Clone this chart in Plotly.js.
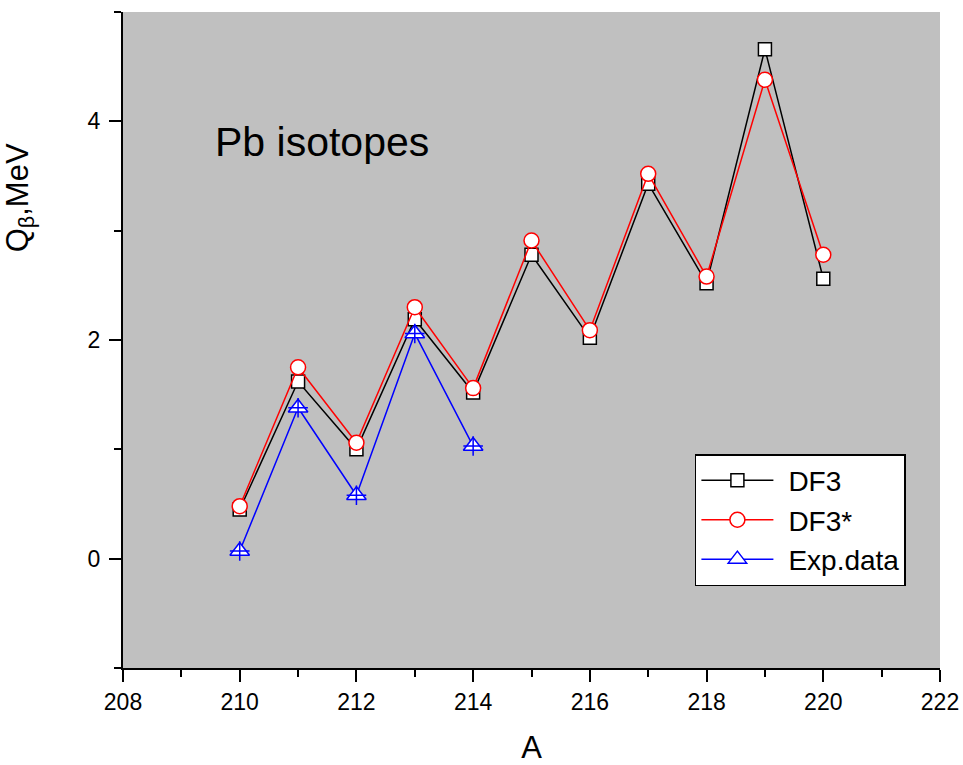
<!DOCTYPE html>
<html>
<head>
<meta charset="utf-8">
<script src="https://cdn.plot.ly/plotly-3.0.1.min.js"></script>
<style>html,body{margin:0;padding:0;background:#fff;}#chart{width:963px;height:765px;}</style>
</head>
<body>
<div id="chart"></div>
<script>
const massNumbers = [210, 211, 212, 213, 214, 215, 216, 217, 218, 219, 220];
const df3 = [0.45, 1.62, 1.00, 2.19, 1.52, 2.78, 2.02, 3.43, 2.52, 4.66, 2.56];
const df3star = [0.48, 1.75, 1.06, 2.30, 1.56, 2.91, 2.09, 3.52, 2.58, 4.38, 2.78];
const expMass = [210, 211, 212, 213, 214];
const expData = [0.07, 1.38, 0.58, 2.06, 1.03];
const seriesNames = ["DF3", "DF3*", "Exp.data"];

const FONT = "Liberation Sans, Arial, sans-serif";

const traces = [
  {
    x: massNumbers, y: df3, name: seriesNames[0], type: "scatter", mode: "lines+markers",
    line: {color: "#000000", width: 1.5},
    marker: {symbol: "square", size: 13, color: "#ffffff", line: {color: "#000000", width: 1.5}}
  },
  {
    x: massNumbers, y: df3star, name: seriesNames[1], type: "scatter", mode: "lines+markers",
    line: {color: "#ff0000", width: 1.5},
    marker: {symbol: "circle", size: 15, color: "#ffffff", line: {color: "#ff0000", width: 1.5}}
  },
  {
    x: expMass, y: expData, name: seriesNames[2], type: "scatter", mode: "lines+markers",
    line: {color: "#0000ff", width: 1.5},
    marker: {symbol: "triangle-up", size: 17, color: "#ffffff", line: {color: "#0000ff", width: 1.5}}
  },
  {
    x: expMass, y: expData, name: seriesNames[2], type: "scatter", mode: "markers",
    showlegend: false, hoverinfo: "skip",
    marker: {symbol: "cross-thin", size: 14, color: "#0000ff", line: {color: "#0000ff", width: 1.5}}
  }
];

const layout = {
  width: 963, height: 765,
  margin: {l: 123, r: 23, t: 12, b: 97},
  paper_bgcolor: "#ffffff",
  plot_bgcolor: "#c0c0c0",
  font: {family: FONT, color: "#000000", size: 23},
  showlegend: true,
  xaxis: {
    range: [208, 222], tick0: 208, dtick: 2,
    showgrid: false, zeroline: false,
    showline: true, linecolor: "#000000", linewidth: 2, mirror: false,
    ticks: "outside", ticklen: 12, tickwidth: 2, tickcolor: "#000000",
    minor: {dtick: 1, ticks: "outside", ticklen: 7, tickwidth: 2, tickcolor: "#000000", showgrid: false},
    tickfont: {family: FONT, size: 23},
    title: {text: "A", font: {family: FONT, size: 31}, standoff: 26}
  },
  yaxis: {
    range: [-1, 5], tick0: 0, dtick: 2,
    showgrid: false, zeroline: false,
    showline: true, linecolor: "#000000", linewidth: 2, mirror: false,
    ticks: "outside", ticklen: 12, tickwidth: 2, tickcolor: "#000000",
    minor: {dtick: 1, ticks: "outside", ticklen: 7, tickwidth: 2, tickcolor: "#000000", showgrid: false},
    tickfont: {family: FONT, size: 23},
    ticklabelstandoff: 4
  },
  legend: {
    x: 0.70, y: 0.326, xanchor: "left", yanchor: "top",
    bgcolor: "#ffffff", bordercolor: "#000000", borderwidth: 1.5,
    itemwidth: 82,
    font: {family: FONT, size: 28, color: "#000000"}
  },
  annotations: [
    {
      text: "Pb isotopes", xref: "paper", yref: "paper", x: 0.243, y: 0.802,
      xanchor: "center", yanchor: "middle", showarrow: false,
      font: {family: FONT, size: 41, color: "#000000"}
    },
    {
      text: "Q<sub>β</sub>,MeV", xref: "paper", yref: "paper", x: -0.126, y: 0.716,
      xanchor: "center", yanchor: "middle", showarrow: false, textangle: -90,
      font: {family: FONT, size: 31, color: "#000000"}
    }
  ]
};

function stretchLegendSymbols() {
  const root = document.getElementById("chart");
  root.querySelectorAll(".legend .traces").forEach(function (g) {
    g.querySelectorAll(".legendlines path").forEach(function (p) {
      p.setAttribute("d", "M5,0h72");
    });
    g.querySelectorAll(".legendpoints path.scatterpts").forEach(function (p) {
      p.setAttribute("transform", "translate(41,0)");
    });
  });
}

Plotly.newPlot("chart", traces, layout, {displayModeBar: false, staticPlot: true}).then(stretchLegendSymbols);
</script>
</body>
</html>
